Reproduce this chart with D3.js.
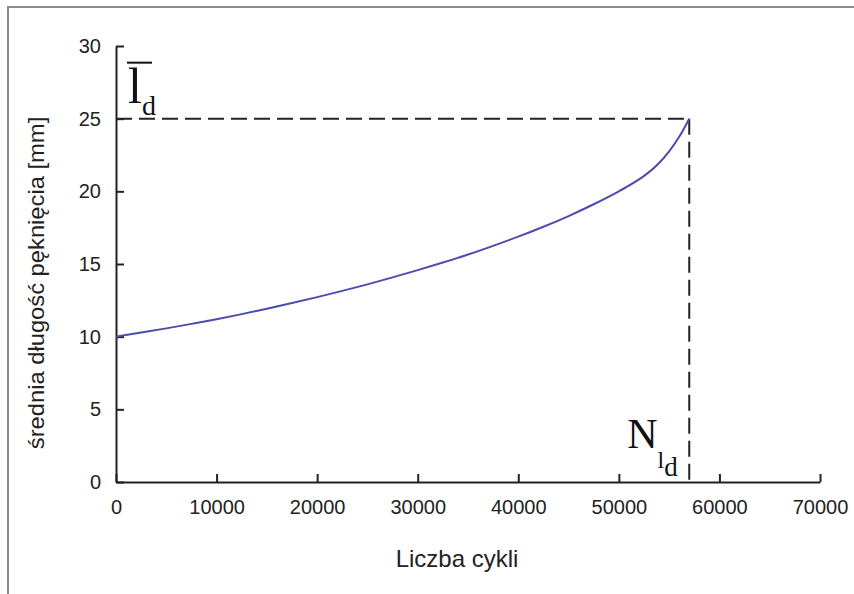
<!DOCTYPE html>
<html>
<head>
<meta charset="utf-8">
<script src="https://cdn.jsdelivr.net/npm/d3@7"></script>
<style>
	body { margin: 0; background: #fff; }
	svg { display: block; }
</style>
</head>
<body>
<svg id="chart"></svg>
<script>
// cycles vs mean crack length
const cycles = [0, 2500, 5000, 7500, 10000, 12500, 15000, 17500, 20000, 22500, 25000, 27500,
	30000, 32500, 35000, 37500, 40000, 42500, 45000, 47500, 50000, 51000, 52000, 53000,
	54000, 55000, 56000, 57000];
const crackLength = [10.0, 10.28, 10.57, 10.88, 11.2, 11.55, 11.92, 12.31, 12.72, 13.15, 13.6, 14.08,
	14.58, 15.1, 15.65, 16.25, 16.88, 17.56, 18.3, 19.11, 20.0, 20.39, 20.82, 21.32,
	21.95, 22.75, 23.75, 25.0];
const xTicks = [0, 10000, 20000, 30000, 40000, 50000, 60000, 70000];
const yTicks = [0, 5, 10, 15, 20, 25, 30];
const criticalCycles = 57000;
const criticalLength = 25;

const data = cycles.map((c, i) => ({ c, l: crackLength[i] }));

const W = 854, H = 594;
const margin = { top: 46, right: 34, bottom: 112, left: 116 };
const width = W - margin.left - margin.right;
const height = H - margin.top - margin.bottom;

const root = d3.select("#chart").attr("width", W).attr("height", H);

// outer frame
root.append("rect")
	.attr("x", 8).attr("y", 7)
	.attr("width", W).attr("height", H)
	.attr("fill", "none")
	.attr("stroke", "#8a8a8a")
	.attr("stroke-width", 2);

const svg = root.append("g")
	.attr("transform", `translate(${margin.left},${margin.top})`);

const x = d3.scaleLinear().domain([0, 70000]).range([0, width]);
const y = d3.scaleLinear().domain([0, 30]).range([height, 0]);

const xAxis = svg.append("g")
	.attr("transform", `translate(0,${height})`)
	.call(d3.axisBottom(x).tickValues(xTicks).tickFormat(d3.format("d")).tickSizeInner(-8).tickSizeOuter(0).tickPadding(18));

const yAxis = svg.append("g")
	.call(d3.axisLeft(y).tickValues(yTicks).tickSizeInner(-8).tickSizeOuter(0).tickPadding(15));

[xAxis, yAxis].forEach(a => {
	a.select(".domain").attr("stroke", "#222").attr("stroke-width", 2);
	a.selectAll(".tick line").attr("stroke", "#222").attr("stroke-width", 2);
	a.selectAll("text")
		.attr("font-family", "Arial, 'Liberation Sans', sans-serif")
		.attr("font-size", "20px")
		.attr("fill", "#222");
});

// dashed guide lines to the critical point
svg.append("line")
	.attr("x1", x(0)).attr("x2", x(criticalCycles))
	.attr("y1", y(criticalLength)).attr("y2", y(criticalLength))
	.attr("stroke", "#222").attr("stroke-width", 2)
	.attr("stroke-dasharray", "16,7");

svg.append("line")
	.attr("x1", x(criticalCycles)).attr("x2", x(criticalCycles))
	.attr("y1", y(criticalLength)).attr("y2", y(0))
	.attr("stroke", "#222").attr("stroke-width", 2)
	.attr("stroke-dasharray", "16,7");

const line = d3.line()
	.x(d => x(d.c))
	.y(d => y(d.l))
	.curve(d3.curveMonotoneX);

svg.append("path")
	.datum(data)
	.attr("d", line)
	.attr("fill", "none")
	.attr("stroke", "#4b4bb0")
	.attr("stroke-width", 2);

// axis titles
root.append("text")
	.attr("x", 457)
	.attr("y", 567)
	.attr("text-anchor", "middle")
	.attr("font-family", "Arial, 'Liberation Sans', sans-serif")
	.attr("font-size", "24px")
	.attr("fill", "#222")
	.text("Liczba cykli");

root.append("text")
	.attr("transform", "translate(44,283) rotate(-90) scale(1.08,1)")
	.attr("text-anchor", "middle")
	.attr("font-family", "Arial, 'Liberation Sans', sans-serif")
	.attr("font-size", "22px")
	.attr("fill", "#222")
	.text("średnia długość pęknięcia [mm]");

// symbols at the critical point
const serif = "'Liberation Serif', 'DejaVu Serif', serif";
const lLabel = svg.append("text")
	.attr("x", 12)
	.attr("y", y(criticalLength) - 16)
	.attr("font-family", serif)
	.attr("fill", "#111");
lLabel.append("tspan").attr("font-size", "50px").text("l");
lLabel.append("tspan").attr("font-size", "28px").attr("dy", 12).text("d");

svg.append("line")
	.attr("x1", 11).attr("x2", 36)
	.attr("y1", y(criticalLength) - 56).attr("y2", y(criticalLength) - 56)
	.attr("stroke", "#111").attr("stroke-width", 2);

const nLabel = svg.append("text")
	.attr("x", x(criticalCycles) - 62)
	.attr("y", height - 34)
	.attr("font-family", serif)
	.attr("fill", "#111");
nLabel.append("tspan").attr("font-size", "42px").text("N");
nLabel.append("tspan").attr("font-size", "24px").attr("dy", 20).text("l");
nLabel.append("tspan").attr("font-size", "27px").attr("dy", 8).text("d");
</script>
</body>
</html>
